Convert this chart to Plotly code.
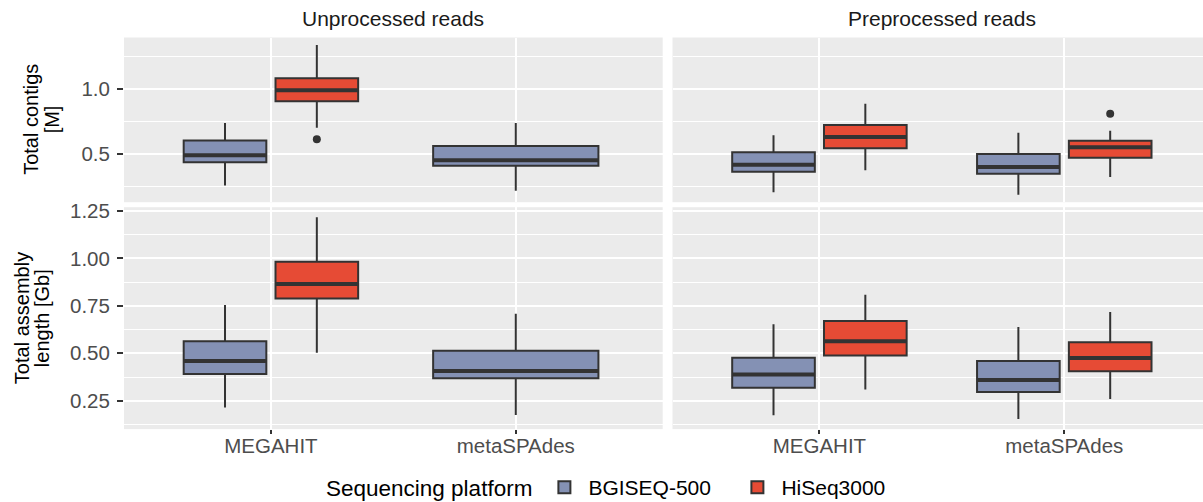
import plotly.graph_objects as go

# ---------------- data ----------------
ASSEMBLERS = ["MEGAHIT", "metaSPAdes"]
PLATFORMS = ["BGISEQ-500", "HiSeq3000"]
PROCESSING = ["Unprocessed reads", "Preprocessed reads"]
METRICS = ["Total contigs\n[M]", "Total assembly\nlength [Gb]"]

# box summaries per assembler: [lower whisker, Q1, median, Q3, upper whisker]
# Total contigs [M]
contigs_unproc_bgi = {"MEGAHIT": [0.255, 0.434, 0.488, 0.601, 0.737],
                      "metaSPAdes": [0.214, 0.407, 0.449, 0.560, 0.737]}
contigs_unproc_hiseq = {"MEGAHIT": [0.701, 0.905, 0.990, 1.083, 1.340]}
contigs_preproc_bgi = {"MEGAHIT": [0.202, 0.361, 0.415, 0.511, 0.642],
                       "metaSPAdes": [0.183, 0.345, 0.397, 0.498, 0.662]}
contigs_preproc_hiseq = {"MEGAHIT": [0.372, 0.542, 0.629, 0.722, 0.886],
                         "metaSPAdes": [0.320, 0.468, 0.550, 0.600, 0.678]}
# Total assembly length [Gb]
length_unproc_bgi = {"MEGAHIT": [0.214, 0.391, 0.459, 0.563, 0.754],
                     "metaSPAdes": [0.175, 0.368, 0.407, 0.514, 0.708]}
length_unproc_hiseq = {"MEGAHIT": [0.503, 0.789, 0.865, 0.982, 1.216]}
length_preproc_bgi = {"MEGAHIT": [0.174, 0.319, 0.389, 0.477, 0.653],
                      "metaSPAdes": [0.154, 0.296, 0.359, 0.459, 0.638]}
length_preproc_hiseq = {"MEGAHIT": [0.310, 0.489, 0.563, 0.670, 0.808],
                        "metaSPAdes": [0.259, 0.405, 0.475, 0.558, 0.717]}

# outlying points
contigs_unproc_hiseq_outliers = {"MEGAHIT": [0.611]}
contigs_preproc_hiseq_outliers = {"metaSPAdes": [0.809]}

PANELS = {
    (0, 0): ({"BGISEQ-500": contigs_unproc_bgi, "HiSeq3000": contigs_unproc_hiseq},
             {"HiSeq3000": contigs_unproc_hiseq_outliers}),
    (0, 1): ({"BGISEQ-500": contigs_preproc_bgi, "HiSeq3000": contigs_preproc_hiseq},
             {"HiSeq3000": contigs_preproc_hiseq_outliers}),
    (1, 0): ({"BGISEQ-500": length_unproc_bgi, "HiSeq3000": length_unproc_hiseq}, {}),
    (1, 1): ({"BGISEQ-500": length_preproc_bgi, "HiSeq3000": length_preproc_hiseq}, {}),
}

# ---------------- style ----------------
COLORS = {"BGISEQ-500": "#8491B4", "HiSeq3000": "#E64B35"}
EDGE = "#333333"
FONT = "Liberation Sans, Arial, sans-serif"
W, H = 1203, 502

# panel geometry in pixels
COL_X = [(124.0, 662.7), (672.5, 1211.2)]
ROW_Y = [(37.5, 202.2), (207.2, 429.1)]
UNIT = (COL_X[0][1] - COL_X[0][0]) / 2.2

fig = go.Figure()


def ax_suffix(r, c):
    n = r * 2 + c + 1
    return "" if n == 1 else str(n)


legend_done = set()
for (r, c), (stats, outliers) in PANELS.items():
    sfx = ax_suffix(r, c)
    for asm in ASSEMBLERS:
        present = [p for p in PLATFORMS if asm in stats[p]]
        agroup = "dodge" if len(present) > 1 else "solo_" + asm
        for p in present:
            lo, q1, med, q3, hi = stats[p][asm]
            pts = outliers.get(p, {}).get(asm, [])
            show = p not in legend_done
            legend_done.add(p)
            common = dict(x=[asm], xaxis="x" + sfx, yaxis="y" + sfx,
                          offsetgroup=p, alignmentgroup=agroup,
                          whiskerwidth=0, hoverinfo="skip")
            extra = dict(y=[pts], boxpoints="outliers", jitter=0, pointpos=0) if pts else dict(boxpoints=False)
            fig.add_trace(go.Box(
                name=p, legendgroup=p, showlegend=show,
                q1=[q1], median=[med], q3=[q3], lowerfence=[lo], upperfence=[hi],
                fillcolor=COLORS[p], line=dict(color=EDGE, width=2),
                marker=dict(color=EDGE, size=8, line=dict(width=0)),
                **extra, **common))
            # thick median bar (ggplot style)
            fig.add_trace(go.Box(
                name=p, legendgroup=p, showlegend=False,
                q1=[med], median=[med], q3=[med], lowerfence=[med], upperfence=[med],
                boxpoints=False, fillcolor="rgba(0,0,0,0)",
                line=dict(color=EDGE, width=4), **common))

# y ranges from data with ggplot's 5% expansion
def yrange(row):
    vals = []
    for (r, c), (stats, outliers) in PANELS.items():
        if r != row:
            continue
        for p in stats:
            for v in stats[p].values():
                vals += v
        for p in outliers:
            for v in outliers[p].values():
                vals += v
    lo, hi = min(vals), max(vals)
    pad = 0.05 * (hi - lo)
    return [lo - pad, hi + pad]


tickfont = dict(family=FONT, size=20.5, color="#4D4D4D")
for r in range(2):
    for c in range(2):
        sfx = ax_suffix(r, c)
        x0, x1 = COL_X[c]
        y0, y1 = ROW_Y[r]
        xr = [-0.6, -0.6 + (min(x1, W) - x0) / UNIT]
        xdom = [x0 / W, min(x1, W) / W]
        fig.layout["xaxis" + sfx] = dict(
            domain=xdom, anchor="y" + sfx, type="category",
            categoryorder="array", categoryarray=ASSEMBLERS, range=xr,
            showgrid=True, gridcolor="white", gridwidth=2, zeroline=False,
            showline=False, showticklabels=(r == 1),
            ticks="outside" if r == 1 else "", ticklen=4, tickwidth=1.5,
            ticklabelstandoff=-6,
            tickcolor=EDGE, tickfont=tickfont, automargin=False)
        fig.layout["yaxis" + sfx] = dict(
            domain=[(H - y1) / H, (H - y0) / H], anchor="x" + sfx,
            range=yrange(r), tick0=0, dtick=0.5 if r == 0 else 0.25,
            tickformat=".1f" if r == 0 else ".2f",
            showgrid=True, gridcolor="white", gridwidth=2, zeroline=False,
            showline=False, showticklabels=(c == 0),
            ticks="outside" if c == 0 else "", ticklen=6, tickwidth=1.5,
            ticklabelstandoff=3,
            tickcolor=EDGE, tickfont=tickfont, automargin=False,
            minor=dict(dtick=0.25 if r == 0 else 0.125, tick0=0,
                       showgrid=True, gridcolor="white", gridwidth=1, ticks=""))

annotations = []
for c, label in enumerate(PROCESSING):
    x0, x1 = COL_X[c]
    annotations.append(dict(text=label, x=(x0 + x1) / 2 / W, y=(H - 19) / H,
                            xref="paper", yref="paper", showarrow=False,
                            xanchor="center", yanchor="middle",
                            font=dict(family=FONT, size=21, color="#1A1A1A")))

TITLE_X = [[31, 51.5], [22, 42]]
for r, metric in enumerate(METRICS):
    y0, y1 = ROW_Y[r]
    for i, line in enumerate(metric.split("\n")):
        annotations.append(dict(text=line, x=TITLE_X[r][i] / W, y=(H - (y0 + y1) / 2) / H,
                                xref="paper", yref="paper", showarrow=False,
                                textangle=-90, xanchor="center", yanchor="middle",
                                font=dict(family=FONT, size=20, color="black")))

fig.update_layout(
    width=W, height=H, margin=dict(l=0, r=0, t=0, b=0, autoexpand=False),
    paper_bgcolor="white", plot_bgcolor="#EBEBEB",
    boxmode="group", boxgap=0.25, boxgroupgap=0.1,
    annotations=annotations,
    font=dict(family=FONT, size=21, color="black"),
    legend=dict(orientation="h", x=324 / W, xanchor="left", y=(H - 467) / H, yanchor="top",
                title=dict(text="Sequencing platform", font=dict(size=22.5, color="black")),
                font=dict(family=FONT, size=21, color="black"),
                bgcolor="rgba(0,0,0,0)", itemwidth=38, entrywidth=140),
    showlegend=True,
)

fig.write_html("out.html", config={"displayModeBar": False},
               post_script="document.body.style.margin='0px';")
